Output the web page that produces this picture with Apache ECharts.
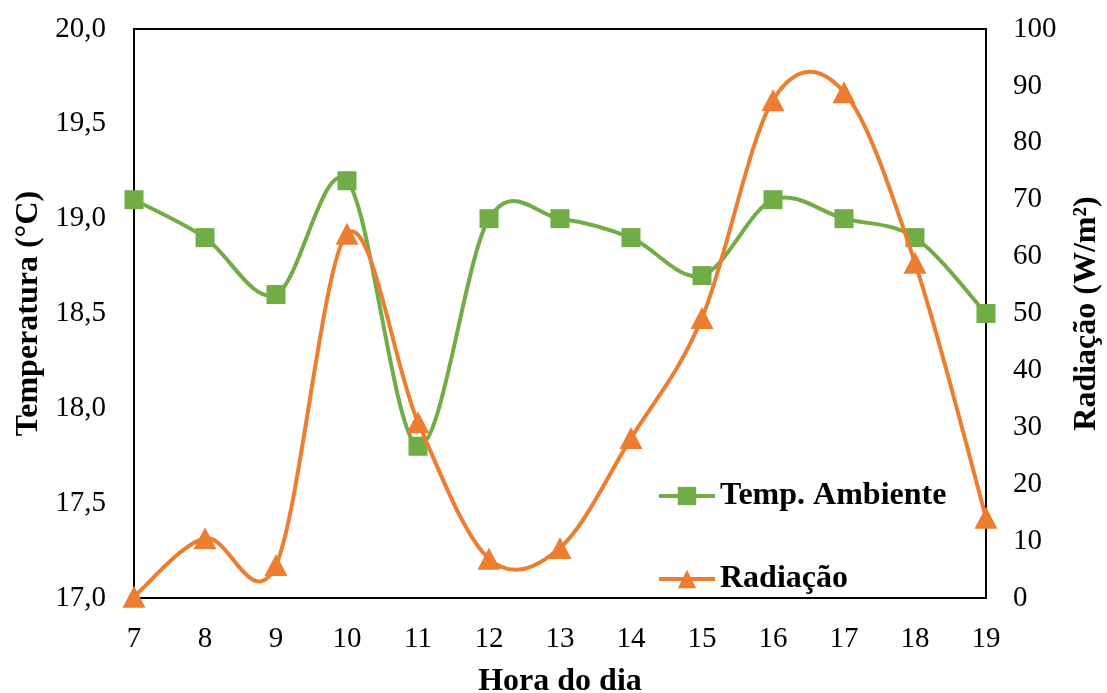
<!DOCTYPE html>
<html><head><meta charset="utf-8">
<script src="https://cdn.jsdelivr.net/npm/echarts@6/dist/echarts.min.js"></script>
<style>html,body{margin:0;padding:0;background:#fff}#c{width:1107px;height:693px}</style>
</head><body><div id="c"></div>
<script>
const hours = ['7','8','9','10','11','12','13','14','15','16','17','18','19'];
const tempAmbiente = [19.1,18.9,18.6,19.2,17.8,19.0,19.0,18.9,18.7,19.1,19.0,18.9,18.5];
const radiacao = [0.2,10.5,5.8,64,30.9,6.9,8.8,28.1,49.2,87.5,88.9,58.9,14.1];
const F = '"Liberation Serif","Times New Roman",serif';
const GREEN = '#70AD47', ORANGE = '#ED7D31';

// Excel-like smoothed curve (Catmull-Rom bezier) drawn through the axes' coordinate mapping
function curveSeries(values, yIdx, color, z) {
  const n = values.length;
  return {
    type:'custom', yAxisIndex:yIdx, z:z, silent:true,
    data: values.map((v,i)=>[i,v]),
    encode:{x:0,y:1},
    renderItem:function(params, api){
      const i = params.dataIndex;
      if (i >= n-1) return {type:'group',children:[]};
      const P = k => { const c = Math.max(0, Math.min(n-1, k)); return api.coord([c, values[c]]); };
      const p0=P(i-1), p1=P(i), p2=P(i+1), p3=P(i+2);
      return {type:'bezierCurve',
        shape:{x1:p1[0],y1:p1[1],x2:p2[0],y2:p2[1],
          cpx1:p1[0]+(p2[0]-p0[0])/6, cpy1:p1[1]+(p2[1]-p0[1])/6,
          cpx2:p2[0]-(p3[0]-p1[0])/6, cpy2:p2[1]-(p3[1]-p1[1])/6},
        style:{stroke:color,lineWidth:4,fill:null,lineCap:'round'}};
    }
  };
}

const chart = echarts.init(document.getElementById('c'));
chart.setOption({
  animation:false,
  grid:{left:134,right:121,top:29,bottom:95,containLabel:false,outerBoundsMode:'none',
        show:true,borderColor:'#000',borderWidth:2,backgroundColor:'transparent'},
  legend:[
    {left:652,top:475,itemWidth:56,itemHeight:23,data:['Temp. Ambiente'],
     lineStyle:{width:4,opacity:1},
     textStyle:{fontFamily:F,fontSize:32,fontWeight:'bold',color:'#000'}},
    {left:652,top:558,itemWidth:56,itemHeight:23,data:['Radiação'],
     lineStyle:{width:4,opacity:1},
     textStyle:{fontFamily:F,fontSize:32,fontWeight:'bold',color:'#000'}}
  ],
  xAxis:{type:'category',data:hours,boundaryGap:false,
    name:'Hora do dia',nameLocation:'middle',nameGap:68,
    nameTextStyle:{fontFamily:F,fontSize:32,fontWeight:'bold',color:'#000'},
    axisLine:{lineStyle:{color:'#000',width:2}},axisTick:{show:false},
    axisLabel:{fontFamily:F,fontSize:29,color:'#000',margin:27}},
  yAxis:[
    {type:'value',min:17,max:20,interval:0.5,
     name:'Temperatura (°C)',nameLocation:'middle',nameGap:88,
     nameTextStyle:{fontFamily:F,fontSize:32,fontWeight:'bold',color:'#000'},
     axisLine:{show:true,lineStyle:{color:'#000',width:2}},axisTick:{show:false},splitLine:{show:false},
     axisLabel:{fontFamily:F,fontSize:29,color:'#000',margin:28,formatter:v=>v.toFixed(1).replace('.',',')}},
    {type:'value',min:0,max:100,interval:10,
     name:'Radiação (W/m²)',nameLocation:'middle',nameGap:85,nameRotate:90,
     nameTextStyle:{fontFamily:F,fontSize:32,fontWeight:'bold',color:'#000'},
     axisLine:{show:true,lineStyle:{color:'#000',width:2}},axisTick:{show:false},splitLine:{show:false},
     axisLabel:{fontFamily:F,fontSize:29,color:'#000',margin:27}}
  ],
  series:[
    curveSeries(tempAmbiente, 0, GREEN, 2),
    {name:'Temp. Ambiente',type:'line',yAxisIndex:0,data:tempAmbiente,z:3,
     symbol:'rect',symbolSize:19,itemStyle:{color:GREEN},lineStyle:{color:GREEN,width:4,opacity:0}},
    curveSeries(radiacao, 1, ORANGE, 4),
    {name:'Radiação',type:'line',yAxisIndex:1,data:radiacao,z:5,
     symbol:'triangle',symbolSize:[23,22],itemStyle:{color:ORANGE},lineStyle:{color:ORANGE,width:4,opacity:0}}
  ]
});
</script></body></html>
